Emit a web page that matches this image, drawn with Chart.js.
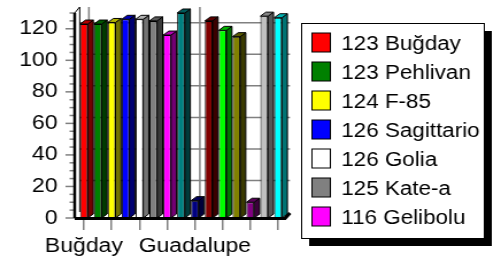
<!DOCTYPE html>
<html>
<head>
<meta charset="utf-8">
<script src="https://cdn.jsdelivr.net/npm/chart.js"></script>
<style>
  html, body { margin: 0; padding: 0; background: #fff; }
  #chart { display: block; }
</style>
</head>
<body>
<canvas id="chart" width="436" height="265" style="width:501px;height:265px"></canvas>
<script>
// the original picture is stretched sideways, so the canvas is drawn narrow and scaled up by CSS
const varieties = ['Buğday', 'Pehlivan', 'F-85', 'Sagittario', 'Golia', 'Kate-a', 'Gelibolu', '',
                   'Guadalupe', '', '', '', '', '', ''];
const yields = [123, 123, 124, 126, 126, 125, 116, 130, 11, 125, 119, 115, 10, 128, 127];
const barColors = ['#FF0000', '#008000', '#FFFF00', '#0000FF', '#FFFFFF', '#808080', '#FF00FF', '#008080',
                   '#000080', '#800000', '#00FF00', '#808000', '#800080', '#C0C0C0', '#00FFFF'];
const yMax = 130;
const yStep = 20;
const minorStep = 5;
const labelEvery = 8;   // Excel shows a category name on every 8th bar
const tickEvery = 2;
const legendCount = 7;  // the legend box is cut off after seven entries

const WALL_DX = 4.35, WALL_DY = -6;
const BAR_DX = 4.8, BAR_DY = -4;

const shade = (hex, f) => {
    const n = parseInt(hex.slice(1), 16);
    const r = Math.round(((n >> 16) & 255) * f);
    const g = Math.round(((n >> 8) & 255) * f);
    const b = Math.round((n & 255) * f);
    return `rgb(${r},${g},${b})`;
};

const line = (ctx, x1, y1, x2, y2) => {
    ctx.beginPath();
    ctx.moveTo(x1, y1);
    ctx.lineTo(x2, y2);
    ctx.stroke();
};

const poly = (ctx, pts, fill) => {
    ctx.beginPath();
    pts.forEach(([px, py], i) => i ? ctx.lineTo(px, py) : ctx.moveTo(px, py));
    ctx.closePath();
    ctx.fillStyle = fill;
    ctx.fill();
    ctx.stroke();
};

// walls, gridlines and the 3D sides of the columns
const depth3d = {
    id: 'depth3d',
    beforeDatasetsDraw(chart) {
        const { ctx, chartArea: a, scales: { x, y } } = chart;
        const x0 = a.left - 2;
        ctx.save();
        ctx.strokeStyle = '#808080';
        ctx.lineWidth = 1.5;
        y.ticks.forEach(t => {
            if (t.value === 0) return;
            const py = y.getPixelForValue(t.value) + WALL_DY;
            line(ctx, x0 + WALL_DX, py, a.right + WALL_DX, py);
        });
        varieties.forEach((v, i) => {
            if (i % labelEvery) return;
            const px = x.getPixelForValue(i) + WALL_DX;
            line(ctx, px, a.top + WALL_DY, px, a.bottom + WALL_DY);
        });
        // y tick marks, long at labels
        for (let v = 0; v <= yMax; v += minorStep) {
            const py = y.getPixelForValue(v);
            const len = v % yStep === 0 ? 8 : 4.5;
            line(ctx, x0 - len, py, x0, py);
        }
        ctx.strokeStyle = '#000';
        ctx.lineWidth = 1;
        line(ctx, x0 + WALL_DX, a.top + WALL_DY, x0 + WALL_DX, a.bottom + WALL_DY);
        line(ctx, x0, a.top, x0 + WALL_DX, a.top + WALL_DY);
        ctx.lineWidth = 2.5;
        line(ctx, x0, a.top, x0, a.bottom);
        ctx.restore();
    },
    afterDatasetsDraw(chart) {
        const { ctx, chartArea: a } = chart;
        const x0 = a.left - 2;
        ctx.save();
        ctx.strokeStyle = '#000';
        ctx.lineWidth = 1;
        chart.getDatasetMeta(0).data.forEach((bar, i) => {
            const { x: cx, y: top, base, width } = bar.getProps(['x', 'y', 'base', 'width'], true);
            const l = cx - width / 2, r = cx + width / 2;
            poly(ctx, [[r, top], [r + BAR_DX, top + BAR_DY], [r + BAR_DX, base + BAR_DY], [r, base]], shade(barColors[i], 0.45));
            poly(ctx, [[l, top], [l + BAR_DX, top + BAR_DY], [r + BAR_DX, top + BAR_DY], [r, top]], shade(barColors[i], 0.7));
        });
        // floor
        ctx.lineWidth = 3;
        ctx.beginPath();
        ctx.moveTo(x0, a.bottom + 0.5);
        ctx.lineTo(a.right, a.bottom + 0.5);
        ctx.lineTo(a.right + WALL_DX, a.bottom + WALL_DY + 1);
        ctx.stroke();
        ctx.restore();
    }
};

// Excel style legend with a drop shadow
const legendBox = {
    id: 'legendBox',
    afterDraw(chart) {
        const ctx = chart.ctx;
        const L = 262, T = 23, W = 159, H = 215;
        ctx.save();
        ctx.fillStyle = '#000';
        ctx.fillRect(L + 7, T + 8, W, H);
        ctx.fillStyle = '#fff';
        ctx.fillRect(L, T, W, H);
        ctx.strokeStyle = '#000';
        ctx.lineWidth = 1;
        ctx.strokeRect(L + 0.5, T + 0.5, W, H);
        ctx.font = '19.5px "Liberation Sans", Arial, sans-serif';
        ctx.textBaseline = 'alphabetic';
        for (let i = 0; i < legendCount; i++) {
            const top = 33 + i * 29;
            ctx.fillStyle = barColors[i];
            ctx.fillRect(271.5, top, 16, 19);
            ctx.strokeRect(271.5, top, 16, 19);
            ctx.fillStyle = '#000';
            ctx.fillText(`${yields[i]} ${varieties[i]}`, 297, top + 16.5);
        }
        ctx.restore();
    }
};

Chart.defaults.font.family = '"Liberation Sans", Arial, sans-serif';
Chart.defaults.font.size = 20;
Chart.defaults.color = '#000';

new Chart(document.getElementById('chart'), {
    type: 'bar',
    data: {
        labels: varieties,
        datasets: [{
            data: yields,
            backgroundColor: barColors,
            borderColor: '#000',
            borderWidth: 1,
            barPercentage: 0.555,
            categoryPercentage: 1
        }]
    },
    options: {
        responsive: false,
        devicePixelRatio: 1,
        animation: false,
        layout: { padding: { top: 13, right: 188, bottom: 0, left: 0 } },
        plugins: { legend: { display: false }, tooltip: { enabled: false } },
        scales: {
            x: {
                afterFit: s => { s.height = 47; s.paddingLeft = 0; s.paddingRight = 0; },
                border: { display: false },
                grid: {
                    offset: false,
                    drawOnChartArea: false,
                    tickLength: 12,
                    lineWidth: 1.5,
                    color: c => c.index % tickEvery ? 'rgba(0,0,0,0)' : '#808080'
                },
                ticks: {
                    autoSkip: false,
                    maxRotation: 0,
                    padding: 4,
                    callback: (v, i) => i % labelEvery ? '' : varieties[i]
                }
            },
            y: {
                min: 0,
                max: yMax,
                afterFit: s => { s.width = 67; s.paddingTop = 0; s.paddingBottom = 0; },
                border: { display: false },
                grid: { display: false, drawTicks: false },
                ticks: { stepSize: yStep, includeBounds: false, padding: 17 }
            }
        }
    },
    plugins: [depth3d, legendBox]
});
</script>
</body>
</html>
